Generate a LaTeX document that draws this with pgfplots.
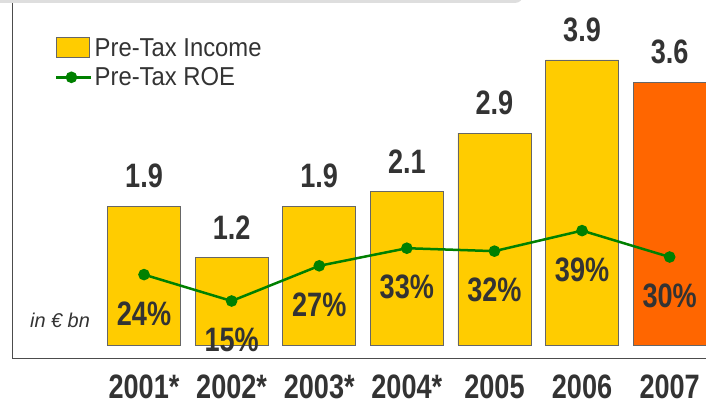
\documentclass[border=0pt]{standalone}
\usepackage{pgfplots}
\pgfplotsset{compat=1.18}
\usepackage{fontspec}
\setmainfont{Liberation Sans}
\newfontfamily\condfont[FakeStretch=0.8]{Liberation Sans}
\newfontfamily\legendfont[FakeStretch=0.92]{Liberation Sans}
\definecolor{incomeyellow}{HTML}{FFCC00}
\definecolor{incomeorange}{HTML}{FF6600}
\definecolor{roegreen}{HTML}{008000}
\definecolor{textgray}{HTML}{333333}
\definecolor{edgegray}{HTML}{666666}
\newcommand\bignum{\condfont\bfseries\fontsize{34}{38}\selectfont}
\pgfplotsset{
  box legend/.style={legend image code/.code={\draw[##1] (0bp,-10bp) rectangle (33bp,10bp);}},
  dot legend/.style={legend image code/.code={\draw[##1,mark repeat=2,mark phase=2] plot coordinates {(0bp,0bp) (15bp,0bp) (35bp,0bp)};}},
}

\begin{document}
\begin{tikzpicture}
\useasboundingbox (0bp,0bp) rectangle (706bp,405bp);
% header band
\fill[black!13, rounded corners=8bp] (-20bp,402bp) rectangle (523bp,420bp);

\begin{axis}[
  at={(12bp,47bp)}, anchor=south west,
  scale only axis, width=694bp, height=355bp,
  xmin=-0.507, xmax=7.415, ymin=-0.178, ymax=4.68,
  axis x line=bottom, axis y line=left,
  axis line style={-, draw=black!70, line width=1bp},
  ytick=\empty,
  xtick={1,2,3,4,5,6,7},
  xticklabels={2001*,2002*,2003*,2004*,2005,2006,2007},
  major tick length=0pt,
  xticklabel style={font=\bignum, text=textgray, anchor=center, inner sep=0pt, yshift=-28.5bp},
  legend style={at={(axis description cs:0,1)}, anchor=north west,
    xshift=43bp, yshift=-33bp, draw=none, fill=none, inner sep=0pt,
    font=\legendfont\fontsize{26}{30}\selectfont, text=textgray,
    row sep=6bp, nodes={inner sep=2bp}},
  legend cell align=left,
  clip=false,
]
\addplot[ybar, bar width=0.833, bar shift=0pt, fill=incomeyellow, draw=edgegray, line width=0.8bp,
  box legend,
  point meta=y,
  nodes near coords={\pgfmathprintnumber[fixed,fixed zerofill,precision=1,assume math mode=true]{\pgfplotspointmeta}},
  nodes near coords align=center,
  every node near coord/.append style={font=\bignum, text=textgray, yshift=30bp}]
  coordinates {(1,1.9) (2,1.2) (3,1.9) (4,2.1) (5,2.9) (6,3.9)};
\addlegendentry{Pre-Tax Income}
\addplot[ybar, forget plot, bar width=0.833, bar shift=0pt, fill=incomeorange, draw=edgegray, line width=0.8bp,
  point meta=y,
  nodes near coords={\pgfmathprintnumber[fixed,fixed zerofill,precision=1,assume math mode=true]{\pgfplotspointmeta}},
  nodes near coords align=center,
  every node near coord/.append style={font=\bignum, text=textgray, yshift=30bp}]
  coordinates {(7,3.6)};
\addlegendimage{roegreen, line width=2.5bp, mark=*, mark size=4.5bp, dot legend}
\addlegendentry{Pre-Tax ROE}
\end{axis}

\begin{axis}[
  at={(12bp,47bp)}, anchor=south west,
  scale only axis, width=694bp, height=355bp,
  xmin=-0.507, xmax=7.415, ymin=-4.43, ymax=116.6,
  hide axis, clip=false,
]
\addplot[roegreen, line width=2.5bp, mark=*, mark size=4.5bp,
  point meta=y,
  nodes near coords={\pgfmathprintnumber[assume math mode=true]{\pgfplotspointmeta}\%},
  nodes near coords align=center,
  every node near coord/.append style={font=\bignum, text=textgray, yshift=-39bp}]
  coordinates {(1,24) (2,15) (3,27) (4,33) (5,32) (6,39) (7,30)};
\end{axis}

\node[font=\itshape\fontsize{20}{24}\selectfont, text=textgray] at (60bp,85bp) {in € bn};
\end{tikzpicture}
\end{document}
